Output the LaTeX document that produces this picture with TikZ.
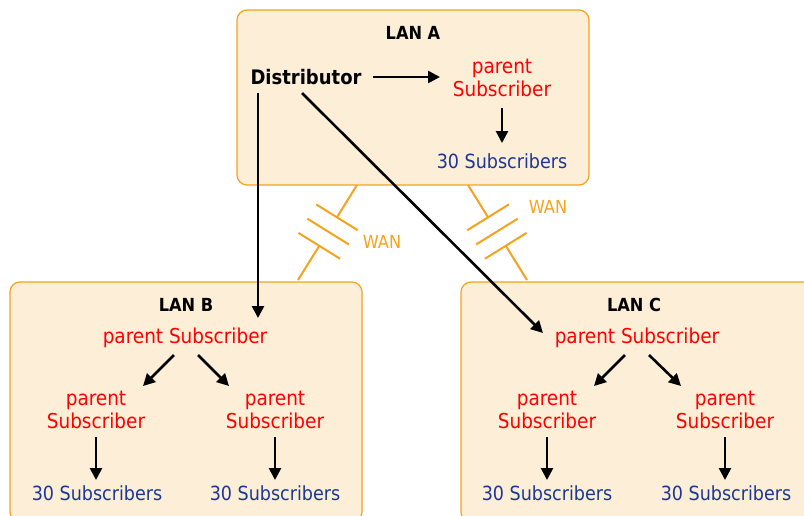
\documentclass[tikz,border=0pt]{standalone}
\usepackage{fontspec}
\setmainfont{DejaVu Sans Condensed}
\usetikzlibrary{calc,arrows.meta}
\definecolor{lanfill}{RGB}{253,238,216}
\definecolor{lanline}{RGB}{246,162,30}
\definecolor{subred}{RGB}{255,0,0}
\definecolor{subblue}{RGB}{25,55,150}
\tikzset{
  lanbox/.style={draw=lanline, fill=lanfill, line width=1.2pt, rounded corners=10pt},
  lantitle/.style={font=\fontsize{18}{20}\selectfont\bfseries, text=black, inner sep=0pt},
  distnode/.style={font=\fontsize{20}{22}\selectfont\bfseries, text=black, inner sep=0pt},
  parnode/.style={font=\fontsize{20.5}{23}\selectfont, text=subred, inner sep=0pt, align=center},
  subsnode/.style={font=\fontsize{19.5}{21}\selectfont, text=subblue, inner sep=0pt},
  arr/.style={line width=2.6pt, -{Triangle[length=12pt,width=12pt]}},
  wan/.style={draw=lanline, line width=2pt},
  wanlabel/.style={font=\fontsize{18}{20}\selectfont, text=lanline, inner sep=0pt}
}
\begin{document}
\begin{tikzpicture}[x=1pt,y=-1pt]
\clip (0,0) rectangle (804,515);
% WAN links
\coordinate (w1a) at (357,185);
\coordinate (w1b) at (298,280);
\coordinate (w2a) at (468,185);
\coordinate (w2b) at (527,280);
\draw[wan] (w1a) -- ($(w1a)!0.34!(w1b)$);
\draw[wan] ($(w1a)!0.64!(w1b)$) -- (w1b);
\foreach \t in {0.34,0.49,0.64}{
  \coordinate (p) at ($(w1a)!\t!(w1b)$);
  \draw[wan] ($(p)!24.5pt!90:(w1b)$) -- ($(p)!24.5pt!-90:(w1b)$);
}
\draw[wan] (w2a) -- ($(w2a)!0.34!(w2b)$);
\draw[wan] ($(w2a)!0.64!(w2b)$) -- (w2b);
\foreach \t in {0.34,0.49,0.64}{
  \coordinate (q) at ($(w2a)!\t!(w2b)$);
  \draw[wan] ($(q)!24.5pt!90:(w2b)$) -- ($(q)!24.5pt!-90:(w2b)$);
}
\node[wanlabel] (wl1) at (382,242) {WAN};
\node[wanlabel] (wl2) at (548,207) {WAN};
% LAN boxes
\draw[lanbox] (237,10) rectangle (589,185);
\draw[lanbox] (10,282) rectangle (362,522);
\draw[lanbox] (461,282) rectangle (820,522);
% LAN A
\node[lantitle] (ta) at (413,33) {LAN A};
\node[distnode] (dist) at (306,77) {Distributor};
\node[parnode] (apar) at (502,78) {parent\\Subscriber};
\node[subsnode] (asub) at (502,161) {30 Subscribers};
% LAN B
\node[lantitle] (tb) at (186,305) {LAN B};
\node[parnode] (bpar) at (185,338) {parent Subscriber};
\node[parnode] (bl) at (96,410) {parent\\Subscriber};
\node[parnode] (br) at (275,410) {parent\\Subscriber};
\node[subsnode] (bls) at (97,493) {30 Subscribers};
\node[subsnode] (brs) at (275,493) {30 Subscribers};
% LAN C
\node[lantitle] (tc) at (634,305) {LAN C};
\node[parnode] (cpar) at (637,338) {parent Subscriber};
\node[parnode] (cl) at (547,410) {parent\\Subscriber};
\node[parnode] (cr) at (725,410) {parent\\Subscriber};
\node[subsnode] (cls) at (547,493) {30 Subscribers};
\node[subsnode] (crs) at (726,493) {30 Subscribers};
% arrows
\draw[arr] ($(dist)+(67,0)$) -- ($(apar)+(-62,-1)$);
\draw[arr] ($(apar)+(0,30)$) -- ($(apar|-asub)+(0,-18)$);
\draw[arr] ($(dist)+(-48,16)$) -- ($(bpar)+(73,-20)$);
\draw[arr] ($(dist)+(-4,16)$) -- ($(cpar)+(-94,-5)$);
\draw[arr] ($(bpar)+(-11,17)$) -- ($(bl)+(47,-24)$);
\draw[arr] ($(bpar)+(13,17)$) -- ($(br)+(-46,-24)$);
\draw[arr] ($(bl)+(0,27)$) -- ($(bl|-bls)+(0,-13)$);
\draw[arr] ($(br)+(0,27)$) -- ($(br|-brs)+(0,-13)$);
\draw[arr] ($(cpar)+(-12,17)$) -- ($(cl)+(47,-24)$);
\draw[arr] ($(cpar)+(12,17)$) -- ($(cr)+(-44,-24)$);
\draw[arr] ($(cl)+(0,27)$) -- ($(cl|-cls)+(0,-13)$);
\draw[arr] ($(cr)+(0,27)$) -- ($(cr|-crs)+(0,-13)$);
\end{tikzpicture}
\end{document}
